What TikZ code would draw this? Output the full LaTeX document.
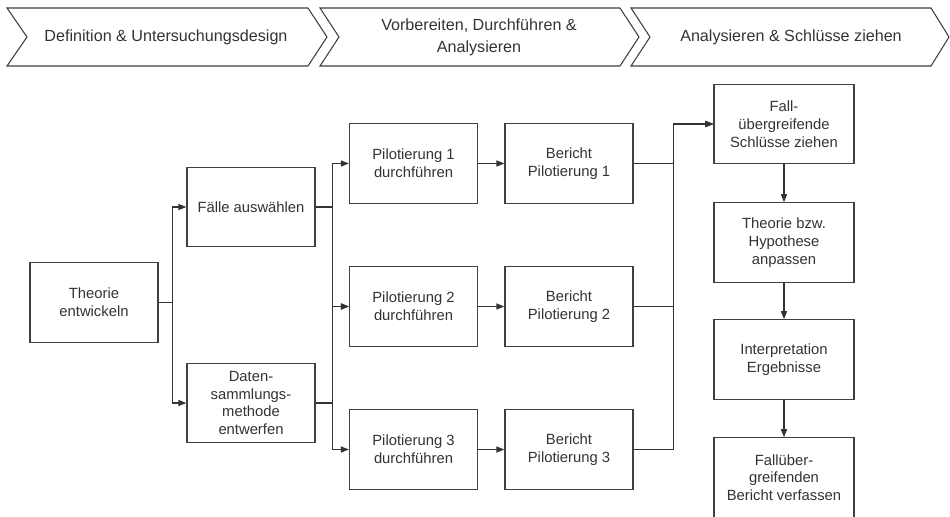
\documentclass[tikz,border=0pt]{standalone}
\usepackage{fontspec}
\setmainfont{Liberation Sans}
\usetikzlibrary{arrows.meta}

\begin{document}
\begin{tikzpicture}[x=0.75pt,y=0.75pt,yscale=-1,xscale=1,
  box/.style={draw={rgb,255:red,64;green,64;blue,64},line width=0.9pt,fill=white,align=center,
    minimum width=96pt,minimum height=59.5pt,inner sep=2pt,
    text={rgb,255:red,51;green,51;blue,51},font=\fontsize{11.1}{13.3}\selectfont},
  widebox/.style={box,minimum width=105pt},
  phase/.style={draw={rgb,255:red,64;green,64;blue,64},line width=0.8pt},
  phasetext/.style={align=center,text={rgb,255:red,51;green,51;blue,51},font=\fontsize{12.1}{16.5}\selectfont},
  conn/.style={draw={rgb,255:red,51;green,51;blue,51},line width=1pt},
  arr/.style={conn,-{Triangle[length=6pt,width=4.5pt]}}]
\useasboundingbox (0,0) rectangle (950,517);

%Phases
\draw [phase] (7,8) -- (308,8) -- (327,37) -- (308,66) -- (7,66) -- (27,37) -- cycle ;
\draw [phase] (320,8) -- (620,8) -- (639,37) -- (620,66) -- (320,66) -- (339,37) -- cycle ;
\draw [phase] (631,8) -- (931,8) -- (949,37) -- (931,66) -- (631,66) -- (650,37) -- cycle ;
\node [phasetext] (ph1) at (166,37) {Definition \& Untersuchungsdesign};
\node [phasetext] (ph2) at (479,37) {Vorbereiten, Durchführen \&\\Analysieren};
\node [phasetext] (ph3) at (791,37) {Analysieren \& Schlüsse ziehen};

%Boxes
\node [box] (theo) at (94,302.5) {Theorie\\entwickeln};
\node [box] (fal) at (251,207) {Fälle auswählen};
\node [box] (dat) at (251,403) {Daten-\\sammlungs-\\methode\\entwerfen};
\node [box] (p1) at (413.5,163.5) {Pilotierung 1\\durchführen};
\node [box] (p2) at (413.5,306.5) {Pilotierung 2\\durchführen};
\node [box] (p3) at (413.5,449.5) {Pilotierung 3\\durchführen};
\node [box] (b1) at (569,163.5) {Bericht\\Pilotierung 1};
\node [box] (b2) at (569,306.5) {Bericht\\Pilotierung 2};
\node [box] (b3) at (569,449.5) {Bericht\\Pilotierung 3};
\node [widebox] (fa) at (784,124) {Fall-\\übergreifende\\Schlüsse ziehen};
\node [widebox] (th) at (784,242.5) {Theorie bzw.\\Hypothese\\anpassen};
\node [widebox] (ip) at (784,359.5) {Interpretation\\Ergebnisse};
\node [widebox] (fb) at (784,477.5) {Fallüber-\\greifenden\\Bericht verfassen};

%Connectors
\draw [arr] (theo.east) -- ++(14,0) |- (fal.west);
\draw [arr] (theo.east) -- ++(14,0) |- (dat.west);
\draw [arr] (fal.east) -- ++(17,0) |- (p1.west);
\draw [arr] (fal.east) -- ++(17,0) |- (p2.west);
\draw [arr] (dat.east) -- ++(17,0) |- (p2.west);
\draw [arr] (dat.east) -- ++(17,0) |- (p3.west);
\foreach \i in {1,2,3}
  \draw [arr] (p\i.east) -- (b\i.west);
\foreach \i in {1,2,3}
  \draw [arr] (b\i.east) -- ++(40,0) |- (fa.west);
\draw [arr] (fa) -- (th);
\draw [arr] (th) -- (ip);
\draw [arr] (ip) -- (fb);

\end{tikzpicture}
\end{document}
